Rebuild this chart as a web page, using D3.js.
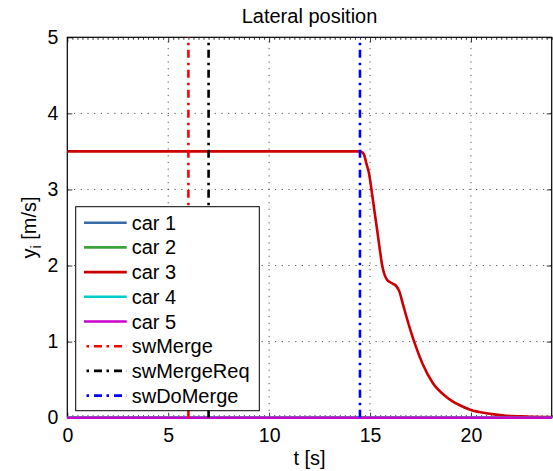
<!DOCTYPE html>
<html>
<head>
<meta charset="utf-8">
<script src="https://cdn.jsdelivr.net/npm/d3@7"></script>
<style>
  body { margin: 0; background: #fff; }
  svg { display: block; font-family: "Liberation Sans", Arial, sans-serif; }
</style>
</head>
<body>
<svg id="chart" width="553" height="471"></svg>
<script>
// ---- data ----
const title = "Lateral position";
const xLabel = "t [s]";
const xTicks = [0, 5, 10, 15, 20];
const yTicks = [0, 1, 2, 3, 4, 5];
const xDomain = [0, 24];
const yDomain = [0, 5];

const carNames = ["car 1", "car 2", "car 3", "car 4", "car 5"];
const carColors = ["#386ca6", "#3ca23c", "#cc0000", "#00cccc", "#cc00cc"];

const car1T = [0, 24];
const car1Y = [0, 0];
const car2T = [0, 24];
const car2Y = [0, 0];
const car3T = [0, 14.5, 14.6, 14.7, 14.82, 14.95, 15.07, 15.2, 15.35, 15.5, 15.6, 15.73, 15.85, 16.0, 16.14, 16.3, 16.45, 16.6, 16.8, 17.0, 17.25, 17.6, 18.1, 18.8, 19.4, 20.0, 20.76, 21.75, 22.74, 24];
const car3Y = [3.5, 3.5, 3.49, 3.46, 3.34, 3.21, 3.0, 2.75, 2.47, 2.18, 2.0, 1.87, 1.81, 1.78, 1.76, 1.73, 1.66, 1.52, 1.33, 1.15, 0.95, 0.71, 0.46, 0.27, 0.17, 0.10, 0.058, 0.026, 0.015, 0.008];
const car4T = [0, 24];
const car4Y = [0, 0];
const car5T = [0, 24];
const car5Y = [0, 0];

const switchNames = ["swMerge", "swMergeReq", "swDoMerge"];
const switchTimes = [6, 7, 14.5];
const switchColors = ["#ff0000", "#000000", "#0000ff"];

// ---- layout ----
const svg = d3.select("#chart");
const L = 67.3, R = 551.7, T = 37.3, B = 417.7;
const x = d3.scaleLinear().domain(xDomain).range([L, R]);
const y = d3.scaleLinear().domain(yDomain).range([B, T]);
const dashDot = "8,4.5,2.5,5";

// grid
const grid = svg.append("g").attr("stroke", "#555").attr("stroke-width", 1).attr("stroke-dasharray", "1.2,5.5");
xTicks.filter(v => v > xDomain[0] && v < xDomain[1]).forEach(v => {
  grid.append("line").attr("x1", x(v)).attr("x2", x(v)).attr("y1", B).attr("y2", T);
});
yTicks.filter(v => v > yDomain[0] && v < yDomain[1]).forEach(v => {
  grid.append("line").attr("x1", L).attr("x2", R).attr("y1", y(v)).attr("y2", y(v));
});

// frame
svg.append("rect").attr("x", L).attr("y", T).attr("width", R - L).attr("height", B - T)
  .attr("fill", "none").attr("stroke", "#000").attr("stroke-width", 1.2);

// axes (ticks inward)
const fs = 19.5;
const axB = svg.append("g").attr("transform", `translate(0,${B})`)
  .call(d3.axisBottom(x).tickValues(xTicks).tickSize(-5).tickPadding(10).tickFormat(d3.format("d")));
const axT = svg.append("g").attr("transform", `translate(0,${T})`)
  .call(d3.axisTop(x).tickValues(xTicks).tickSize(-5).tickFormat(""));
const axL = svg.append("g").attr("transform", `translate(${L},0)`)
  .call(d3.axisLeft(y).tickValues(yTicks).tickSize(-5).tickPadding(9).tickFormat(d3.format("d")));
const axR = svg.append("g").attr("transform", `translate(${R},0)`)
  .call(d3.axisRight(y).tickValues(yTicks).tickSize(-5).tickFormat(""));
// minor ticks on x
const minor = d3.range(0, 24.01, 0.25).filter(v => v % 5 !== 0);
const axBm = svg.append("g").attr("transform", `translate(0,${B})`)
  .call(d3.axisBottom(x).tickValues(minor).tickSize(-2.5).tickFormat(""));
const axTm = svg.append("g").attr("transform", `translate(0,${T})`)
  .call(d3.axisTop(x).tickValues(minor).tickSize(-2.5).tickFormat(""));
[axB, axT, axL, axR, axBm, axTm].forEach(g => {
  g.select(".domain").remove();
  g.selectAll("line").attr("stroke", "#000").attr("stroke-width", 0.8);
  g.selectAll("text").attr("font-size", fs).attr("fill", "#000").attr("font-family", "Liberation Sans, Arial, sans-serif");
});

// car lines
const carT = [car1T, car2T, car3T, car4T, car5T];
const carY = [car1Y, car2Y, car3Y, car4Y, car5Y];
const line = d3.line().x(d => x(d[0])).y(d => y(d[1])).curve(d3.curveMonotoneX);
carNames.forEach((n, i) => {
  const pts = carT[i].map((t, k) => [t, carY[i][k]]);
  svg.append("path").attr("d", line(pts)).attr("fill", "none")
    .attr("stroke", carColors[i]).attr("stroke-width", 2.6);
});

// switch lines
switchNames.forEach((n, i) => {
  svg.append("line").attr("x1", x(switchTimes[i])).attr("x2", x(switchTimes[i]))
    .attr("y1", y(yDomain[0])).attr("y2", y(yDomain[1]))
    .attr("stroke", switchColors[i]).attr("stroke-width", 2.6).attr("stroke-dasharray", dashDot);
});

// title & labels
svg.append("text").attr("x", (L + R) / 2).attr("y", 23).attr("text-anchor", "middle")
  .attr("font-size", 20).text(title);
svg.append("text").attr("x", (L + R) / 2).attr("y", 465).attr("text-anchor", "middle")
  .attr("font-size", 20).text(xLabel);
const yl = svg.append("text").attr("transform", `translate(36,${(T + B) / 2}) rotate(-90)`)
  .attr("text-anchor", "middle").attr("font-size", 20);
yl.append("tspan").text("y");
yl.append("tspan").attr("font-size", 14).attr("dy", 5).text("i");
yl.append("tspan").attr("dy", -5).text(" [m/s]");

// legend
const lg = svg.append("g");
lg.append("rect").attr("x", 75.7).attr("y", 206.7).attr("width", 259.3 - 75.7).attr("height", 410.7 - 206.7)
  .attr("fill", "#fff").attr("stroke", "#000").attr("stroke-width", 1);
const entries = carNames.map((n, i) => ({ name: n, color: carColors[i], dash: null }))
  .concat(switchNames.map((n, i) => ({ name: n, color: switchColors[i], dash: dashDot })));
const ly0 = 222.7, ldy = 24.7;
entries.forEach((e, i) => {
  const yy = ly0 + i * ldy;
  const l = lg.append("line").attr("x1", 84).attr("x2", 126.7).attr("y1", yy).attr("y2", yy)
    .attr("stroke", e.color).attr("stroke-width", 2.6);
  if (e.dash) l.attr("stroke-dasharray", e.dash).attr("stroke-dashoffset", 10);
  lg.append("text").attr("x", 131.7).attr("y", yy + 7).attr("font-size", 20).text(e.name);
});
</script>
</body>
</html>
